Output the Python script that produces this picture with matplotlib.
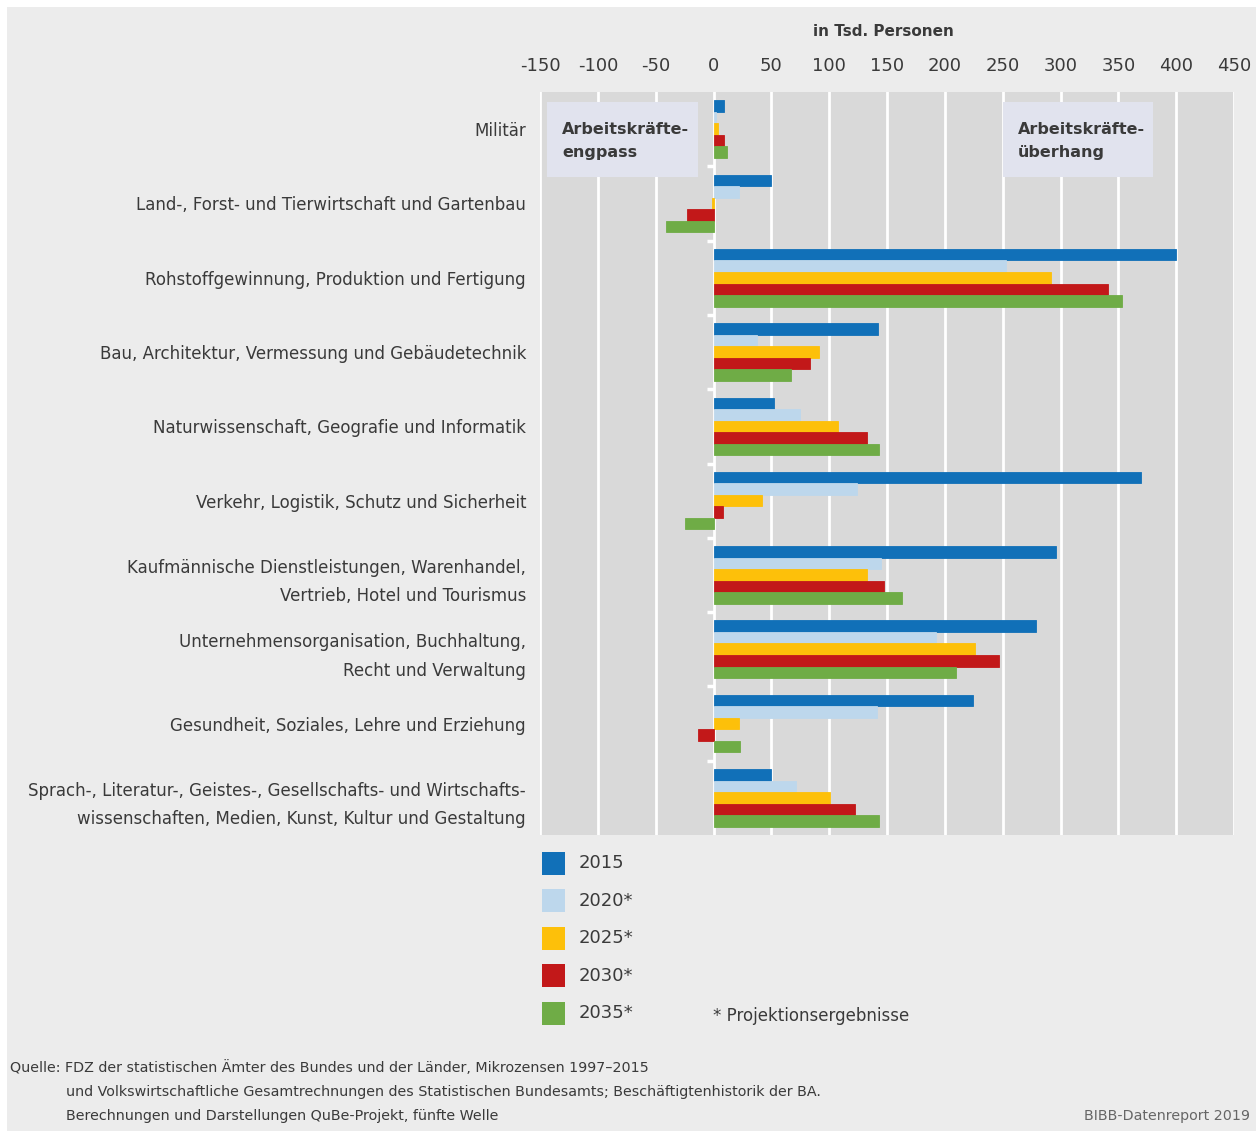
import matplotlib
matplotlib.use("Agg")
import matplotlib.pyplot as plt
from matplotlib.patches import Rectangle
import numpy as np

categories = [
    "Militär",
    "Land-, Forst- und Tierwirtschaft und Gartenbau",
    "Rohstoffgewinnung, Produktion und Fertigung",
    "Bau, Architektur, Vermessung und Gebäudetechnik",
    "Naturwissenschaft, Geografie und Informatik",
    "Verkehr, Logistik, Schutz und Sicherheit",
    "Kaufmännische Dienstleistungen, Warenhandel,\nVertrieb, Hotel und Tourismus",
    "Unternehmensorganisation, Buchhaltung,\nRecht und Verwaltung",
    "Gesundheit, Soziales, Lehre und Erziehung",
    "Sprach-, Literatur-, Geistes-, Gesellschafts- und Wirtschafts-\nwissenschaften, Medien, Kunst, Kultur und Gestaltung",
]
years = ["2015", "2020*", "2025*", "2030*", "2035*"]
v2015 = [9, 50, 400, 142, 52, 370, 296, 279, 224, 50]
v2020 = [2, 22, 253, 38, 75, 124, 145, 192, 141, 71]
v2025 = [3.5, -1, 292, 91, 108, 42, 133, 226, 22, 101]
v2030 = [9, -23, 341, 83, 133, 8, 147, 247, -13, 122]
v2035 = [12, -41, 353, 67, 143, -25, 163, 210, 23, 143]
series = [v2015, v2020, v2025, v2030, v2035]
colors = ["#1170B8", "#BDD7EC", "#FDC00A", "#C21819", "#6FAC46"]
xticks = [-150, -100, -50, 0, 50, 100, 150, 200, 250, 300, 350, 400, 450]

W, H = 1260, 1135
fig = plt.figure(figsize=(W / 100, H / 100), dpi=100, facecolor="white")
txt = "#3a3a3a"
plt.rcParams["font.family"] = ["DejaVu Sans"]

def px(x, y):
    return x / W, 1 - y / H

# grey panel background
fig.add_artist(Rectangle((7 / W, 1 - 1131 / H), (1256 - 7) / W, (1131 - 7) / H,
                         transform=fig.transFigure, facecolor="#ECECEC",
                         edgecolor="none", zorder=-10))

left, right, top, bottom = 540, 1234, 92, 835
ax = fig.add_axes([left / W, 1 - bottom / H, (right - left) / W, (bottom - top) / H])
ax.set_facecolor("#D9D9D9")
for s in ax.spines.values():
    s.set_visible(False)

y = np.arange(len(categories))
h = 0.155
for i, (vals, c) in enumerate(zip(series, colors)):
    ax.barh(y + (i - 2) * h, vals, height=h, color=c, edgecolor=c,
            linewidth=0.6, zorder=3)

ax.set_xlim(-150, 450)
ax.set_ylim(len(categories) - 0.5, -0.5)
ax.set_xticks(xticks)
ax.xaxis.tick_top()
ax.tick_params(axis="x", length=0, pad=12, labelsize=13, labelcolor=txt)
ax.set_xticklabels([str(t) for t in xticks])
ax.grid(axis="x", color="white", linewidth=2, zorder=1)
ax.set_axisbelow(True)
ax.set_yticks(y)
ax.set_yticklabels(categories, fontsize=12, color=txt, linespacing=1.75)
ax.tick_params(axis="y", length=0, pad=10)

# small white ticks at group boundaries
ax.hlines(np.arange(len(categories) - 1) + 0.5, -6, 0, color="white",
          linewidth=2.5, zorder=4)

fig.text(*px(883, 31), "in Tsd. Personen", ha="center", va="center",
         fontsize=11, fontweight="bold", color=txt)

# annotation boxes
for (x0, x1), label in [((547, 698), "Arbeitskräfte-\nengpass"),
                        ((1003, 1153), "Arbeitskräfte-\nüberhang")]:
    fig.add_artist(Rectangle(px(x0, 177), (x1 - x0) / W, 75 / H,
                             transform=fig.transFigure, facecolor="#E1E3EE",
                             edgecolor="none", zorder=5))
    fig.text(*px(x0 + 15, 141), label, ha="left", va="center", fontsize=11.5,
             fontweight="bold", color=txt, linespacing=1.6, zorder=6)

# legend
for i, (yr, c) in enumerate(zip(years, colors)):
    yc = 863 + i * 37.6
    fig.add_artist(Rectangle(px(542, yc + 11.5), 23 / W, 23 / H,
                             transform=fig.transFigure, facecolor=c,
                             edgecolor="none"))
    fig.text(*px(579, yc), yr, ha="left", va="center", fontsize=13, color=txt)
fig.text(*px(713, 1016), "* Projektionsergebnisse", ha="left", va="center",
         fontsize=12, color=txt)

# footer
fs = 10.3
fig.text(*px(10, 1068), "Quelle: FDZ der statistischen Ämter des Bundes und der Länder, Mikrozensen 1997\u20132015",
         ha="left", va="center", fontsize=fs, color=txt)
fig.text(*px(66, 1092), "und Volkswirtschaftliche Gesamtrechnungen des Statistischen Bundesamts; Beschäftigtenhistorik der BA.",
         ha="left", va="center", fontsize=fs, color=txt)
fig.text(*px(66, 1116), "Berechnungen und Darstellungen QuBe-Projekt, fünfte Welle",
         ha="left", va="center", fontsize=fs, color=txt)
fig.text(*px(1250, 1116), "BIBB-Datenreport 2019", ha="right", va="center",
         fontsize=fs, color="#666666")

fig.savefig("out.png", dpi=100, facecolor="white")
